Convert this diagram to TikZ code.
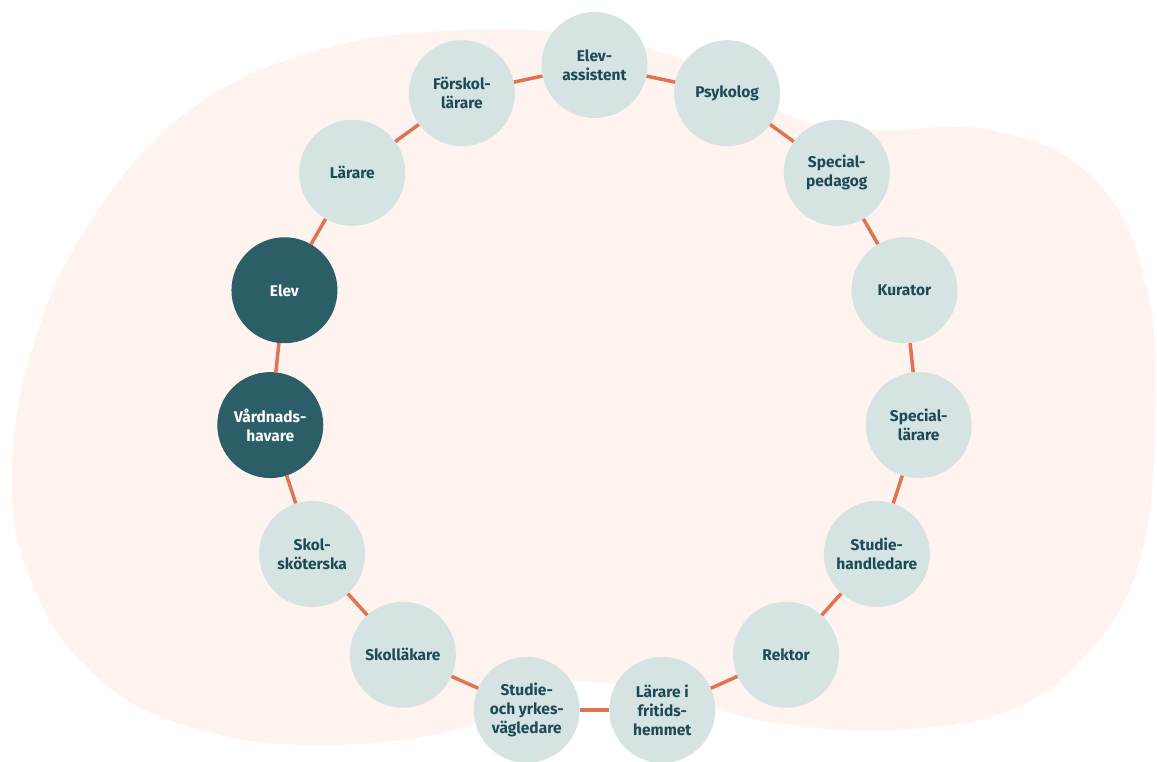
\documentclass[tikz,border=0pt]{standalone}
\usepackage{fontspec}
\setmainfont{Fira Sans}
\usetikzlibrary{calc}
\definecolor{blush}{HTML}{FEF3EF}
\definecolor{mist}{HTML}{D5E3E3}
\definecolor{deepteal}{HTML}{2B5E67}
\definecolor{inkteal}{HTML}{1D4A55}
\definecolor{coral}{HTML}{E07352}
\tikzstyle{link} = [line width=3.5pt, coral]

\begin{document}
\begin{tikzpicture}[x=1pt,y=1pt]
\tikzset{role/.style={circle,fill=mist,text=inkteal,minimum size=106pt,inner sep=0pt,align=center,font=\bfseries\fontsize{15.5}{19}\selectfont},
keyrole/.style={role,fill=deepteal,text=white}}
\useasboundingbox (0,0) rectangle (1157,762);
\clip (0,0) rectangle (1157,762);

% background blob
\fill[blush] plot[smooth cycle, tension=0.7] coordinates {
(12,282) (35,422) (95,547) (190,652) (320,712) (470,732) (610,722) (720,687)
(800,642) (880,632) (990,632) (1090,587) (1145,482) (1155,342) (1140,202)
(1090,112) (1010,52) (890,32) (770,40) (690,62) (600,80) (520,74) (465,35)
(330,17) (200,32) (100,82) (35,172)};

\coordinate (ring) at (594.5,371);
\foreach \txt/\sty [count=\k from 0] in {{Elev-\\assistent}/role, {Förskol-\\lärare}/role,
  {Lärare}/role, {Elev}/keyrole, {Vårdnads-\\havare}/keyrole, {Skol-\\sköterska}/role,
  {Skolläkare}/role, {Studie-\\och yrkes-\\vägledare}/role, {Lärare i\\fritids-\\hemmet}/role,
  {Rektor}/role, {Studie-\\handledare}/role, {Special-\\lärare}/role, {Kurator}/role,
  {Special-\\pedagog}/role, {Psykolog}/role}
\node[\sty] (p\k) at ($(ring)+(90+24*\k:326)$) {\txt};

\foreach \k in {0,...,14} {
\pgfmathtruncatemacro\n{mod(\k+1,15)}
\draw[link] (p\k) -- (p\n); }

\end{tikzpicture}
\end{document}
